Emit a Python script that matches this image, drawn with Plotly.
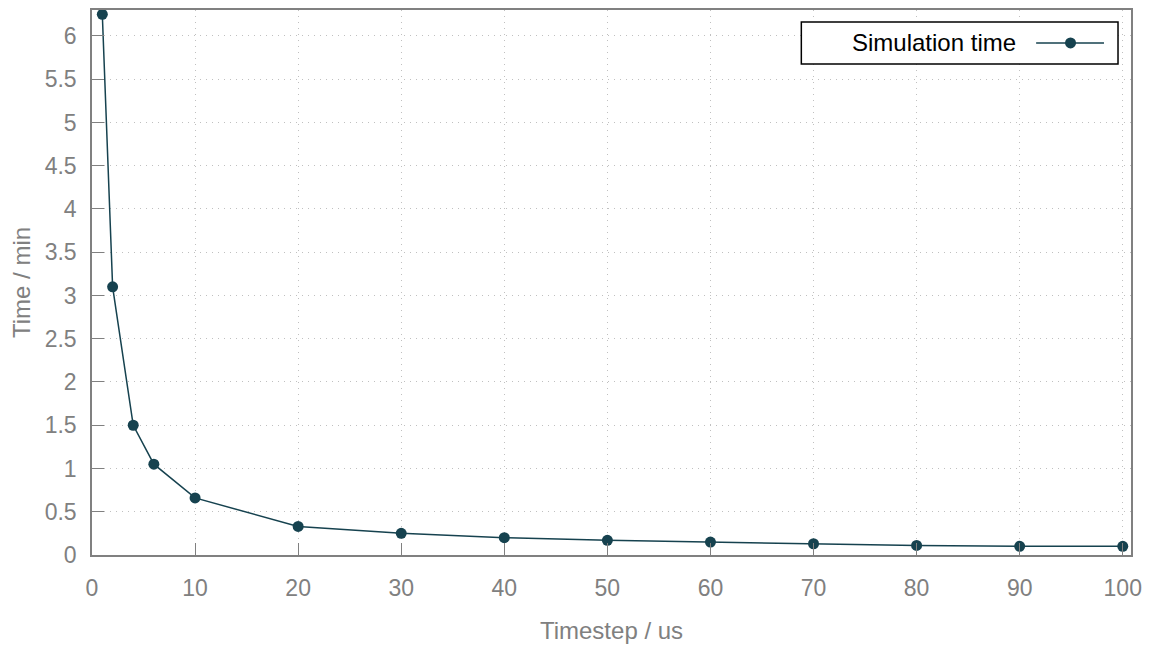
import plotly.graph_objects as go

timestep = [1, 2, 4, 6, 10, 20, 30, 40, 50, 60, 70, 80, 90, 100]
sim_time = [6.25, 3.10, 1.50, 1.05, 0.66, 0.33, 0.25, 0.20, 0.17, 0.15, 0.13, 0.11, 0.10, 0.10]
x_ticks = [0, 10, 20, 30, 40, 50, 60, 70, 80, 90, 100]
y_ticks = [0, 0.5, 1, 1.5, 2, 2.5, 3, 3.5, 4, 4.5, 5, 5.5, 6]
y_labels = ["0", "0.5", "1", "1.5", "2", "2.5", "3", "3.5", "4", "4.5", "5", "5.5", "6"]
series_name = "Simulation time"

color = "#16424f"
grey = "#808080"
FONT = "Liberation Sans, Arial"

fig = go.Figure()
fig.add_trace(go.Scatter(
    x=timestep, y=sim_time, mode="lines+markers", name=series_name,
    line=dict(color=color, width=1.5),
    marker=dict(color=color, size=11),
    showlegend=False, cliponaxis=False,
))

axis_common = dict(
    showline=True, linecolor=grey, linewidth=1.5, mirror=True,
    showgrid=True, gridcolor="#c0c0c0", griddash="1px,5px", gridwidth=1,
    ticks="inside", ticklen=12, tickcolor=grey, tickwidth=1,
    tickfont=dict(family=FONT, size=23, color=grey),
    zeroline=False,
)

fig.update_xaxes(
    range=[0, 100.8], tickvals=x_ticks, ticklabelstandoff=12,
    title=dict(text="Timestep / us", font=dict(family=FONT, size=24, color=grey), standoff=22),
    **axis_common,
)
fig.update_yaxes(
    range=[0, 6.3], tickvals=y_ticks, ticktext=y_labels, ticklabelstandoff=9,
    title=dict(text="Time / min", font=dict(family=FONT, size=24, color=grey), standoff=12),
    **axis_common,
)

# legend box (text on the left, symbol on the right, like the reference)
fig.add_shape(type="rect", xref="paper", yref="paper", x0=0.6827, x1=0.9875, y0=0.901, y1=0.978,
              line=dict(color="black", width=1.5), fillcolor="white", layer="above")
fig.add_annotation(xref="paper", yref="paper", x=0.8914, y=0.9395, xanchor="right", yanchor="middle",
                   text=series_name, showarrow=False,
                   font=dict(family=FONT, size=24, color="black"))
fig.add_shape(type="line", xref="paper", yref="paper", x0=0.9087, x1=0.9740, y0=0.9395, y1=0.9395,
              line=dict(color=color, width=1.5), layer="above")
fig.add_shape(type="circle", xref="paper", yref="paper", x0=0.9365, x1=0.9471, y0=0.9295, y1=0.9495,
              line=dict(color=color, width=0), fillcolor=color, layer="above")

# page body has an 8px default margin, so the figure is shifted by 8px
fig.update_layout(
    width=1145, height=639,
    margin=dict(l=84, r=22, t=0, b=92),
    plot_bgcolor="white", paper_bgcolor="white",
    showlegend=False,
)

fig.write_html("out.html")
